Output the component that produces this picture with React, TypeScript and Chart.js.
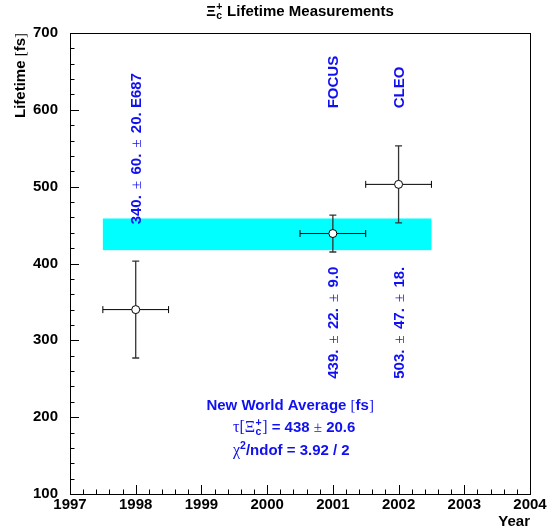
import { useEffect, useRef } from "react";
import { Chart, registerables } from "chart.js";

Chart.register(...registerables);

// ---- data ----
const experiments = ["E687", "FOCUS", "CLEO"];
const years = [1998, 2001, 2002];
const lifetimes = [340, 439, 503];
const totalErr = [63, 24, 50];
const yearHalfWidth = [0.5, 0.5, 0.5];
const upperLabels = ["340. ± 60. ± 20. E687", "FOCUS", "CLEO"];
const upperLabelAt = [451, 602, 602];
const lowerLabels = ["", "439. ± 22. ± 9.0", "503. ± 47. ± 18."];
const lowerLabelAt = [250, 250, 250];
const avgValue = 438;
const avgErr = 20.6;
const avgYears = [1997.5, 2002.5];
const avgText = ["New World Average ", "438", "20.6", "3.92 / 2"];
const avgTextYear = [2000.35, 1999.48];
const avgTextAt = [215, 186, 156];
const xRange = [1997, 2004];
const yRange = [100, 700];

const FAM = '"Liberation Sans", Arial, sans-serif';
const SERIF = '"Liberation Serif", "DejaVu Serif", serif';
const BLUE = "#1010f0";

type Run = { t?: string; bold?: boolean; serif?: boolean; size?: number; dy?: number; pad?: number; stack?: [string, string] };

function font(r: Run, base: number) {
  const size = r.size ?? base;
  return `${r.bold ? "bold " : ""}${size}px ${r.serif ? SERIF : FAM}`;
}

function runsWidth(ctx: CanvasRenderingContext2D, runs: Run[], base: number) {
  let w = 0;
  for (const r of runs) {
    if (r.stack) {
      ctx.font = `bold ${base * 0.7}px ${FAM}`;
      w += Math.max(ctx.measureText(r.stack[0]).width, ctx.measureText(r.stack[1]).width) + 1;
    } else {
      ctx.font = font(r, base);
      w += ctx.measureText(r.t || "").width + 2 * (r.pad || 0);
    }
  }
  return w;
}

function drawRuns(ctx: CanvasRenderingContext2D, runs: Run[], x: number, y: number, base: number, align: "left" | "center" | "right") {
  const w = runsWidth(ctx, runs, base);
  let cx = align === "left" ? x : align === "center" ? x - w / 2 : x - w;
  ctx.textAlign = "left";
  ctx.textBaseline = "middle";
  for (const r of runs) {
    if (r.stack) {
      ctx.font = `bold ${base * 0.7}px ${FAM}`;
      ctx.fillText(r.stack[0], cx + 0.5, y - base * 0.32);
      ctx.fillText(r.stack[1], cx + 0.5, y + base * 0.3);
      cx += Math.max(ctx.measureText(r.stack[0]).width, ctx.measureText(r.stack[1]).width) + 1;
    } else {
      ctx.font = font(r, base);
      cx += r.pad || 0;
      ctx.fillText(r.t || "", cx, y + (r.dy || 0));
      cx += ctx.measureText(r.t || "").width + (r.pad || 0);
    }
  }
}

function pmRuns(s: string): Run[] {
  const parts = s.split("±");
  const runs: Run[] = [];
  parts.forEach((p, i) => {
    if (i > 0) runs.push({ t: "±", serif: true, pad: 2 });
    runs.push({ t: p, bold: true });
  });
  return runs;
}

const rootPlugin = {
  id: "rootStyle",
  beforeDatasetsDraw(chart: any) {
    const { ctx, scales } = chart;
    const x = scales.x, y = scales.y;
    ctx.save();
    ctx.fillStyle = "#00ffff";
    const bx0 = x.getPixelForValue(avgYears[0]);
    const bx1 = x.getPixelForValue(avgYears[1]);
    const by0 = y.getPixelForValue(avgValue + avgErr);
    const by1 = y.getPixelForValue(avgValue - avgErr);
    ctx.fillRect(bx0, by0, bx1 - bx0, by1 - by0);

    ctx.lineWidth = 1;
    years.forEach((yr, i) => {
      const px = x.getPixelForValue(yr);
      const py = y.getPixelForValue(lifetimes[i]);
      const top = y.getPixelForValue(lifetimes[i] + totalErr[i]);
      const bot = y.getPixelForValue(lifetimes[i] - totalErr[i]);
      const l = x.getPixelForValue(yr - yearHalfWidth[i]);
      const r = x.getPixelForValue(yr + yearHalfWidth[i]);
      ctx.strokeStyle = "#333";
      ctx.lineWidth = 1.3;
      ctx.beginPath();
      ctx.moveTo(px, top); ctx.lineTo(px, bot);
      ctx.moveTo(px - 3.5, top); ctx.lineTo(px + 3.5, top);
      ctx.moveTo(px - 3.5, bot); ctx.lineTo(px + 3.5, bot);
      ctx.stroke();
      ctx.strokeStyle = "#000";
      ctx.lineWidth = 1;
      ctx.beginPath();
      ctx.moveTo(l, py); ctx.lineTo(r, py);
      ctx.moveTo(l, py - 3.5); ctx.lineTo(l, py + 3.5);
      ctx.moveTo(r, py - 3.5); ctx.lineTo(r, py + 3.5);
      ctx.stroke();
    });
    ctx.restore();
  },
  afterDraw(chart: any) {
    const { ctx, chartArea, scales } = chart;
    const x = scales.x, y = scales.y;
    const { left, right, top, bottom } = chartArea;
    ctx.save();
    // frame
    ctx.strokeStyle = "#000";
    ctx.lineWidth = 1;
    ctx.strokeRect(Math.round(left) + 0.5, Math.round(top) + 0.5, Math.round(right - left), Math.round(bottom - top));
    // ticks
    ctx.beginPath();
    for (let v = yRange[0]; v <= yRange[1] + 0.001; v += 20) {
      const py = Math.round(y.getPixelForValue(v)) + 0.5;
      const len = Math.abs(v % 100) < 0.01 ? 9 : 4.5;
      ctx.moveTo(left, py); ctx.lineTo(left + len, py);
    }
    for (let k = 0; k <= (xRange[1] - xRange[0]) * 5; k++) {
      const v = xRange[0] + k * 0.2;
      const px = Math.round(x.getPixelForValue(v)) + 0.5;
      const len = k % 5 === 0 ? 9 : 4.5;
      ctx.moveTo(px, bottom); ctx.lineTo(px, bottom - len);
    }
    ctx.stroke();

    // title
    ctx.fillStyle = "#000";
    drawRuns(ctx, [{ t: "Ξ", bold: true }, { stack: ["+", "c"] }, { t: " Lifetime Measurements", bold: true }], (left + right) / 2, 12, 15, "center");
    // axis titles
    drawRuns(ctx, [{ t: "Year", bold: true }], right, 522, 15, "right");
    ctx.save();
    ctx.translate(21, top);
    ctx.rotate(-Math.PI / 2);
    drawRuns(ctx, [{ t: "Lifetime ", bold: true }, { t: "[", serif: true }, { t: "fs", bold: true }, { t: "]", serif: true }], 0, 0, 15, "right");
    ctx.restore();

    // rotated experiment labels
    ctx.fillStyle = BLUE;
    years.forEach((yr, i) => {
      const px = x.getPixelForValue(yr) + 1;
      const items: [string, number][] = [[upperLabels[i], upperLabelAt[i]], [lowerLabels[i], lowerLabelAt[i]]];
      items.forEach(([txt, at]) => {
        if (!txt) return;
        ctx.save();
        ctx.translate(px, y.getPixelForValue(at));
        ctx.rotate(-Math.PI / 2);
        drawRuns(ctx, pmRuns(txt), 0, 0, 15, "left");
        ctx.restore();
      });
    });

    // average text
    const ax0 = x.getPixelForValue(avgTextYear[0]);
    const ax1 = x.getPixelForValue(avgTextYear[1]);
    drawRuns(ctx, [{ t: avgText[0], bold: true }, { t: "[", serif: true }, { t: "fs", bold: true }, { t: "]", serif: true }], ax0, y.getPixelForValue(avgTextAt[0]), 15, "center");
    drawRuns(ctx, [{ t: "τ[Ξ", serif: true, size: 16 }, { stack: ["+", "c"] }, { t: "]", serif: true, size: 16 }, { t: " = " + avgText[1] + " ", bold: true }, { t: "±", serif: true }, { t: " " + avgText[2], bold: true }], ax1, y.getPixelForValue(avgTextAt[1]), 15, "left");
    drawRuns(ctx, [{ t: "χ", serif: true, size: 16 }, { t: "2", bold: true, size: 10.5, dy: -5 }, { t: "/ndof = " + avgText[3], bold: true }], ax1, y.getPixelForValue(avgTextAt[2]), 15, "left");
    ctx.restore();
  },
};

export default function App() {
  const ref = useRef<HTMLCanvasElement>(null);
  useEffect(() => {
    if (!ref.current) return;
    const tickFont = { family: FAM, size: 15, weight: "bold" as const };
    const chart = new Chart(ref.current, {
      type: "scatter",
      data: {
        datasets: [
          {
            label: "Lifetime",
            data: years.map((yr, i) => ({ x: yr, y: lifetimes[i] })),
            pointRadius: 4,
            pointHoverRadius: 4,
            pointBackgroundColor: "#ffffff",
            pointBorderColor: "#000000",
            pointBorderWidth: 1,
          },
        ],
      },
      options: {
        animation: false,
        responsive: false,
        devicePixelRatio: 1,
        events: [],
        layout: { padding: { left: 0, top: 33, right: 22, bottom: 0 } },
        plugins: { legend: { display: false }, tooltip: { enabled: false }, title: { display: false } },
        scales: {
          x: {
            type: "linear",
            min: xRange[0],
            max: xRange[1],
            grid: { display: false, drawTicks: false },
            border: { display: false },
            ticks: { stepSize: 1, color: "#000", font: tickFont, padding: 2, maxRotation: 0, callback: (v: any) => String(v) },
            afterFit: (s: any) => { s.height = 35; },
          },
          y: {
            type: "linear",
            min: yRange[0],
            max: yRange[1],
            grid: { display: false, drawTicks: false },
            border: { display: false },
            ticks: { stepSize: 100, color: "#000", font: tickFont, padding: 12, callback: (v: any) => String(v) },
            afterFit: (s: any) => { s.width = 70; },
          },
        },
      },
      plugins: [rootPlugin],
    });
    return () => chart.destroy();
  }, []);
  return (
    <div style={{ position: "fixed", left: 0, top: 0, width: 552, height: 529, background: "#fff" }}>
      <canvas ref={ref} width={552} height={529} aria-label={experiments.join(", ")} />
    </div>
  );
}
